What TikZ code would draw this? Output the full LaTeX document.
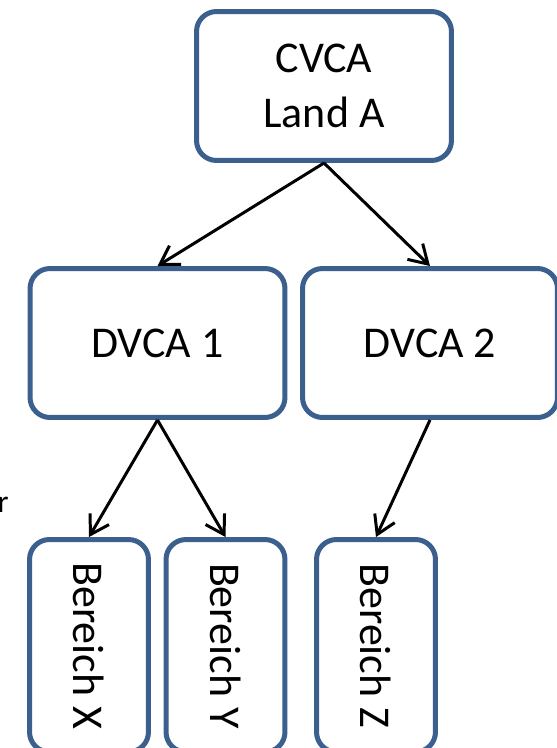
\documentclass[tikz,border=0pt]{standalone}
\usepackage{fontspec}
\setmainfont{Carlito}
\usetikzlibrary{arrows.meta}
\definecolor{boxblue}{RGB}{60,96,142}
\begin{document}
\begin{tikzpicture}[x=0.02cm, y=-0.02cm,
    font=\fontsize{25}{31}\selectfont,
    cabox/.style={draw=boxblue, line width=0.1cm, rounded corners=0.4cm,
      minimum width=5.1cm, minimum height=2.98cm, align=center, inner sep=0pt},
    bereichbox/.style={cabox, minimum width=2.38cm, minimum height=4.25cm},
    arr/.style={-{Straight Barb[length=3.6mm,width=4.4mm]}, line width=1.7pt}]
  \useasboundingbox (0,0) rectangle (556,748);
  \node[cabox] (cvca) at (324,86) {CVCA\\Land A};
  \node[cabox] (dvca1) at (157.5,343) {DVCA 1};
  \node[cabox] (dvca2) at (430,343) {DVCA 2};
  \foreach \bid/\x/\lbl in {bx/89/X, by/225.5/Y, bz/376/Z}
    \node[bereichbox] (\bid) at (\x,645.75) {\rotatebox{-90}{Bereich \lbl}};
  % cut-off word at the left edge
  \node[anchor=base east, inner sep=0pt, font=\fontsize{18}{22}\selectfont] (cut) at (9,512) {r};
  \draw[arr] (cvca.south) -- (dvca1.north);
  \draw[arr] (cvca.south) -- (dvca2.north);
  \draw[arr] (dvca1.south) -- (bx.north);
  \draw[arr] (dvca1.south) -- (by.north);
  \draw[arr] (dvca2.south) -- (bz.north);
\end{tikzpicture}
\end{document}
